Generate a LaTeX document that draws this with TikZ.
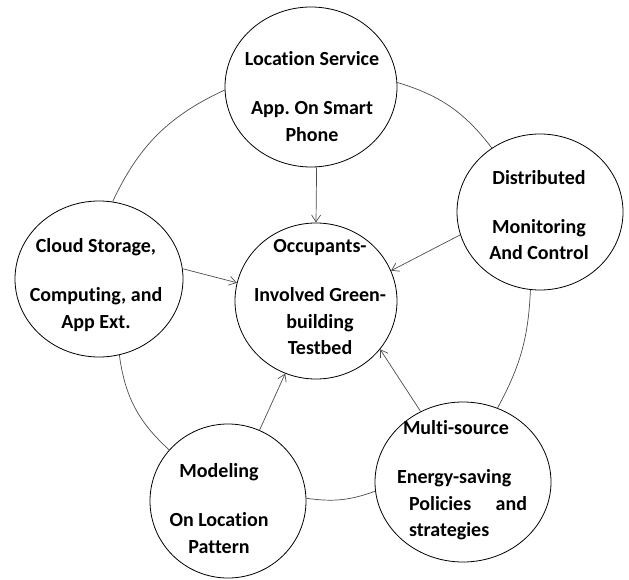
\documentclass[tikz,border=0pt]{standalone}
\usepackage{fontspec}
\setmainfont{Carlito}[Ligatures=NoCommon]
\usetikzlibrary{shapes.geometric,arrows.meta}
\frenchspacing

\begin{document}
\begin{tikzpicture}[x=1pt,y=1pt,
    ring/.style={draw,ellipse,inner sep=0pt,line width=0.8pt},
    lbl/.style={font=\bfseries\fontsize{20}{26.5}\selectfont,align=center,inner sep=0pt},
    link/.style={draw=black!70,line width=0.7pt},
    >={Straight Barb[length=7pt,width=9pt]}]
    \useasboundingbox (0,0) rectangle (629,-580);
    % the six circles
    \node[ring,minimum width=172pt,minimum height=160pt] (loc) at (311,-87) {};
    \node[ring,minimum width=162pt,minimum height=156pt] (mid) at (316,-301) {};
    \node[ring,minimum width=168pt,minimum height=156pt] (cloud) at (99,-279) {};
    \node[ring,minimum width=166pt,minimum height=156pt] (dist) at (540,-212) {};
    \node[ring,minimum width=156pt,minimum height=154pt] (model) at (228,-501) {};
    \node[ring,minimum width=176pt,minimum height=160pt] (multi) at (463,-482) {};
    % texts
    \node[lbl] (loc-t) at (312,-96.5) {Location Service\\[22.5pt]App. On Smart\\Phone};
    \node[lbl] (mid-t) at (320,-297.5) {Occupants-\\[22.5pt]Involved Green-\\building\\Testbed};
    \node[lbl] (cloud-t) at (96,-285) {Cloud Storage,\\[22.5pt]Computing, and\\App Ext.};
    \node[lbl] (dist-t) at (539,-215) {Distributed\\[22.5pt]Monitoring\\And Control};
    \node[lbl] (model-t) at (219,-508.5) {Modeling\\[22.5pt]On Location\\Pattern};
    \node[lbl,align=left] (multi-t) at (462,-480.5) {\hspace*{6pt}Multi-source\\[22.5pt]Energy-saving\\
        \hspace*{12pt}\makebox[118pt][l]{Policies\hfill and}\\\hspace*{12pt}strategies};
    % outer ring of links
    \draw[link] (loc.182) to[bend right=20] (cloud.80);
    \draw[link] (cloud.285) to[bend right=20] (model.139);
    \draw[link] (model.2) to[bend right=14] (multi.186);
    \draw[link] (multi.65) to[bend right=13] (dist.263);
    \draw[link] (dist.127) to[bend right=18] (loc.3);
    % arrows into the testbed
    \draw[link,->] (loc.274) -- (mid.90);
    \draw[link,->] (cloud.7) -- (mid.167);
    \draw[link,->] (dist.196) -- (mid.22);
    \draw[link,->] (model.66) -- (mid.247);
    \draw[link,->] (multi.121) -- (mid.323);
\end{tikzpicture}
\end{document}
